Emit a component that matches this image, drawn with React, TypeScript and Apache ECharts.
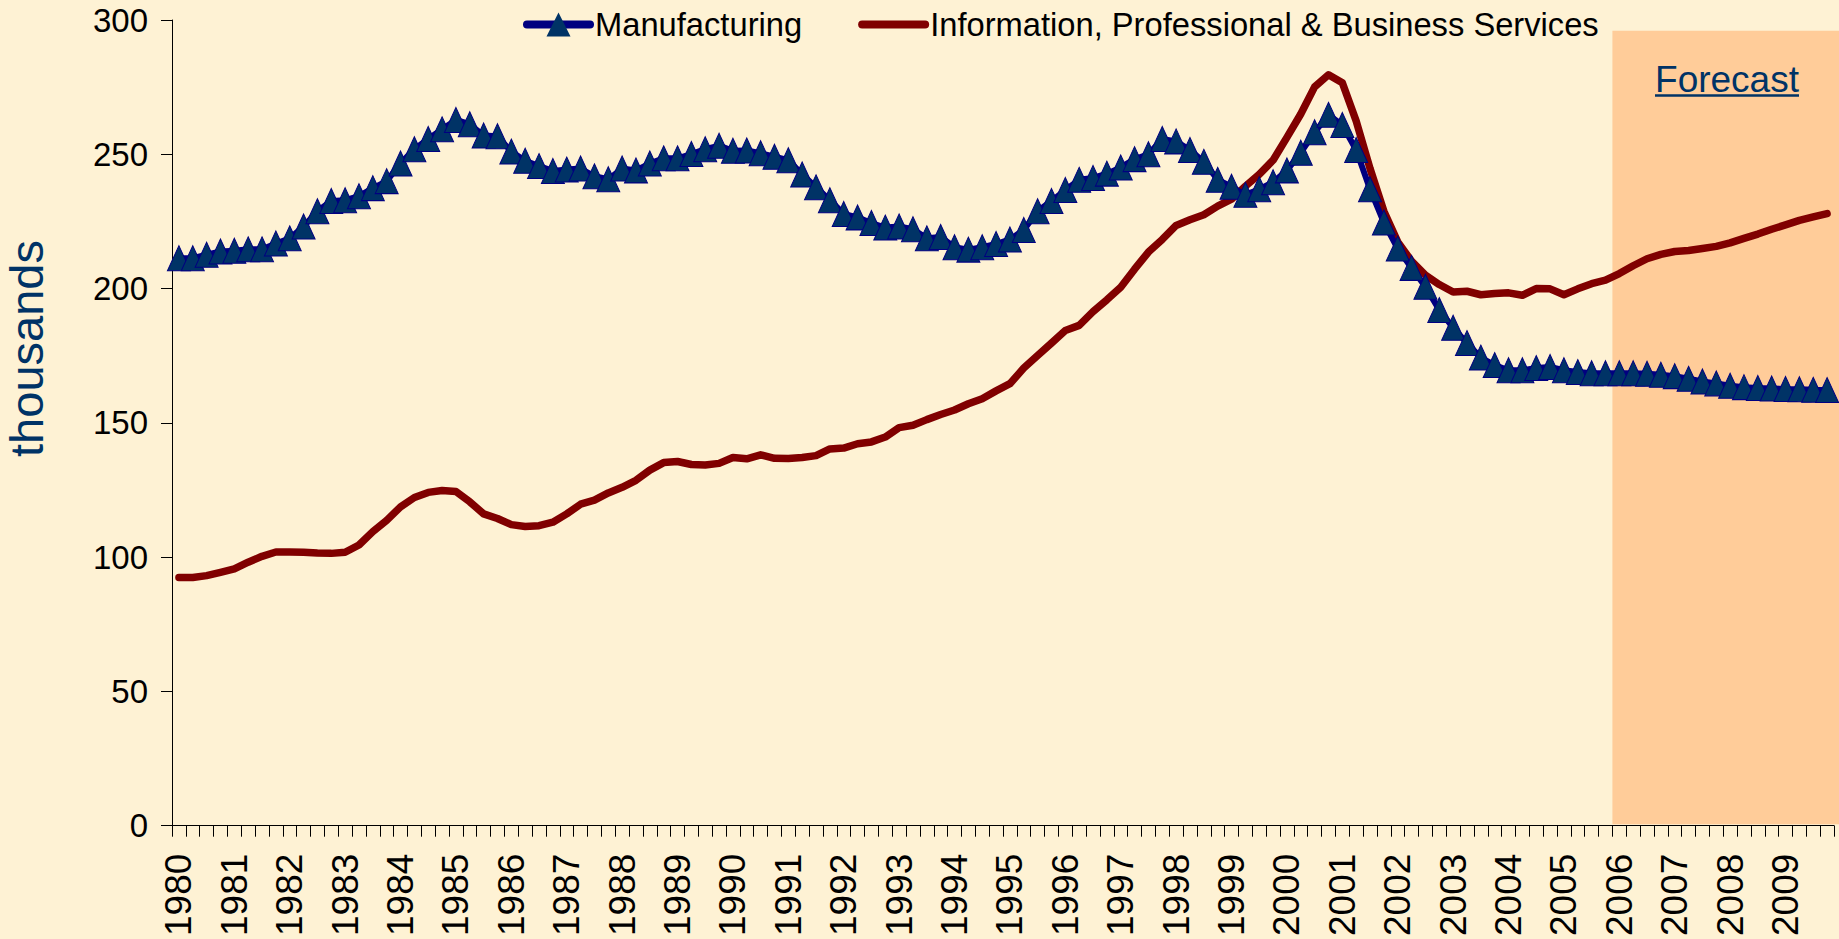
import React, { useEffect, useRef } from "react";
import * as echarts from "echarts";

const FONT = '"Liberation Sans", Arial, Helvetica, sans-serif';

const years = [
  1980, 1981, 1982, 1983, 1984, 1985, 1986, 1987, 1988, 1989,
  1990, 1991, 1992, 1993, 1994, 1995, 1996, 1997, 1998, 1999,
  2000, 2001, 2002, 2003, 2004, 2005, 2006, 2007, 2008, 2009,
];
const quarters = ["Q1", "Q2", "Q3", "Q4"];
const categories: string[] = [];
years.forEach((y) => quarters.forEach((q) => categories.push(`${y}${q}`)));

const yTicks = { min: 0, max: 300, interval: 50 };

// thousands of jobs, quarterly
const manufacturing = [
  211.3, 211.3, 212.6, 213.8,
  214.1, 214.6, 214.6, 216.8,
  218.7, 223.1, 228.8, 232.6,
  232.9, 234.4, 237.4, 240.0,
  246.6, 251.9, 255.7, 259.3,
  262.8, 261.2, 257.0, 256.7,
  251.0, 247.6, 245.6, 243.8,
  244.3, 244.7, 241.8, 240.7,
  244.7, 244.0, 246.6, 248.5,
  248.5, 250.1, 251.9, 253.2,
  251.3, 251.4, 250.4, 249.1,
  247.8, 242.5, 237.7, 232.9,
  227.8, 226.5, 224.4, 222.7,
  223.1, 222.1, 218.7, 219.2,
  215.4, 214.5, 215.4, 216.6,
  218.3, 221.8, 228.8, 232.6,
  236.7, 240.5, 241.2, 242.8,
  245.1, 248.2, 250.0, 255.7,
  254.8, 251.6, 247.2, 240.5,
  237.9, 234.9, 237.0, 239.6,
  244.0, 250.6, 258.2, 264.7,
  260.9, 251.6, 237.0, 224.6,
  214.9, 207.7, 200.7, 192.0,
  185.4, 179.7, 174.3, 171.5,
  169.6, 169.6, 170.4, 170.8,
  169.6, 168.9, 168.5, 168.5,
  168.5, 168.5, 168.3, 167.9,
  167.4, 166.4, 165.4, 164.7,
  163.8, 163.3, 163.0, 162.8,
  162.6, 162.5, 162.3, 162.2,
];

const infoProfBusiness = [
  92.4, 92.4, 93.1, 94.3,
  95.6, 98.1, 100.3, 101.9,
  101.9, 101.8, 101.5, 101.4,
  101.8, 104.5, 109.5, 113.7,
  118.7, 122.2, 124.1, 124.8,
  124.4, 120.6, 116.1, 114.4,
  112.1, 111.4, 111.7, 113.0,
  116.1, 119.7, 121.2, 123.9,
  126.0, 128.6, 132.4, 135.2,
  135.6, 134.5, 134.3, 134.9,
  137.1, 136.6, 138.1, 136.8,
  136.7, 137.1, 137.8, 140.3,
  140.6, 142.2, 142.9, 144.7,
  148.2, 149.1, 151.2, 153.1,
  154.8, 157.1, 159.0, 161.9,
  164.6, 170.4, 175.1, 179.7,
  184.4, 186.3, 191.4, 195.8,
  200.5, 207.2, 213.6, 218.3,
  223.5, 225.6, 227.5, 230.7,
  233.3, 238.1, 242.5, 247.8,
  256.3, 265.0, 275.1, 279.6,
  276.6, 262.4, 244.7, 228.8,
  217.4, 210.2, 205.0, 201.5,
  198.7, 199.0, 197.7, 198.2,
  198.4, 197.5, 200.0, 199.9,
  197.7, 199.9, 201.8, 203.1,
  205.6, 208.5, 211.1, 212.7,
  213.8, 214.2, 214.9, 215.7,
  217.0, 218.7, 220.3, 222.1,
  223.7, 225.4, 226.7, 227.9,
];

const seriesNames = ["Manufacturing", "Information, Professional & Business Services"];
const forecastStart = "2006Q1";
const forecastTopValue = 296;

const W = 1839;
const H = 939;

export default function App() {
  const ref = useRef<HTMLDivElement>(null);

  useEffect(() => {
    document.body.style.margin = "0";
    const chart = echarts.init(ref.current!, null, { renderer: "svg" });
    chart.setOption({
      animation: false,
      backgroundColor: "#FEF2D4",
      grid: { left: 172, right: 5, top: 20, bottom: 105, containLabel: false },
      legend: {
        left: 518,
        top: 3,
        itemWidth: 63,
        itemHeight: 30,
        itemGap: 56,
        data: [
          {
            name: seriesNames[0],
            lineStyle: { width: 8, cap: "round", color: "#000080" },
            itemStyle: { color: "#003366", borderWidth: 0 },
          },
          {
            name: seriesNames[1],
            lineStyle: { width: 8, cap: "round", color: "#800000" },
            itemStyle: { opacity: 0 },
          },
        ],
        textStyle: { fontSize: 32.7, color: "#000", fontFamily: FONT },
      },
      xAxis: {
        type: "category",
        data: categories,
        boundaryGap: true,
        axisLine: { lineStyle: { color: "#000", width: 1 } },
        axisTick: { show: true, interval: 0, length: 11, lineStyle: { color: "#000" } },
        axisLabel: {
          interval: 3,
          rotate: 90,
          margin: 28,
          fontSize: 37,
          color: "#000",
          fontFamily: FONT,
          formatter: (v: string) => v.slice(0, 4),
        },
        splitLine: { show: false },
      },
      yAxis: {
        type: "value",
        min: yTicks.min,
        max: yTicks.max,
        interval: yTicks.interval,
        axisLine: { show: true, lineStyle: { color: "#000", width: 1 } },
        axisTick: { show: true, length: 11, lineStyle: { color: "#000" } },
        axisLabel: { fontSize: 33, color: "#000", margin: 24, fontFamily: FONT },
        splitLine: { show: false },
      },
      series: [
        {
          name: seriesNames[0],
          type: "line",
          data: manufacturing,
          symbol: "triangle",
          symbolSize: [23, 25],
          showAllSymbol: true,
          itemStyle: { color: "#003366", borderColor: "#000080", borderWidth: 1 },
          lineStyle: { color: "#000080", width: 6 },
          z: 3,
        },
        {
          name: seriesNames[1],
          type: "line",
          data: infoProfBusiness,
          symbol: "none",
          itemStyle: { color: "#800000" },
          lineStyle: { color: "#800000", width: 7.5, cap: "round", join: "round" },
          z: 2,
        },
      ],
    });

    const i0 = categories.indexOf(forecastStart);
    const xa = chart.convertToPixel({ xAxisIndex: 0 }, categories[i0]) as number;
    const xb = chart.convertToPixel({ xAxisIndex: 0 }, categories[i0 + 1]) as number;
    const band = xb - xa;
    const left = xa - band / 2;
    const top = chart.convertToPixel({ yAxisIndex: 0 }, forecastTopValue) as number;
    const bottom = (chart.convertToPixel({ yAxisIndex: 0 }, 0) as number) - 1.5;

    chart.setOption({
      graphic: [
        {
          type: "rect",
          z: 0,
          silent: true,
          shape: { x: left, y: top, width: W - left, height: bottom - top },
          style: { fill: "#FFCC99" },
        },
        {
          type: "text",
          z: 10,
          x: 1727,
          y: 79,
          style: {
            text: "Forecast",
            fill: "#003366",
            fontSize: 37,
            fontFamily: FONT,
            textAlign: "center",
            textVerticalAlign: "middle",
          },
        },
        {
          type: "line",
          z: 10,
          shape: { x1: 1655, y1: 95.5, x2: 1799, y2: 95.5 },
          style: { stroke: "#003366", lineWidth: 2.5 },
        },
        {
          type: "text",
          z: 10,
          x: 26,
          y: 348.5,
          rotation: Math.PI / 2,
          style: {
            text: "thousands",
            fill: "#003366",
            fontSize: 47,
            fontFamily: FONT,
            textAlign: "center",
            textVerticalAlign: "middle",
          },
        },
      ],
    });

    return () => chart.dispose();
  }, []);

  return <div ref={ref} style={{ width: W, height: H }} />;
}
